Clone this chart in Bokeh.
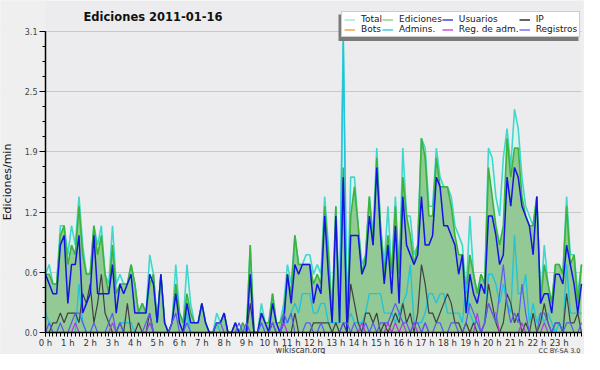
import numpy as np
from bokeh.plotting import figure
from bokeh.models import (Range1d, FixedTicker, Legend, LegendItem, Label,
                          BoxAnnotation, ColumnDataSource)
from bokeh.embed import file_html
from bokeh.resources import INLINE

# ---- data: 10-minute slots, 0 h .. 24 h (values = edits per minute) ----
slots = list(range(145))
hour_labels = [f"{h} h" for h in range(24)]
y_ticks = [0.0, 0.62, 1.24, 1.86, 2.48, 3.1]
y_tick_labels = ["0.0", "0.6", "1.2", "1.9", "2.5", "3.1"]

total = [0.6, 0.7, 0.5, 0.5, 1.1, 1.1,  0.8, 1.1, 0.9, 1.4, 0.9, 0.6,
         0.6, 1.1, 0.9, 1.1, 0.6, 0.5,  1.1, 0.5, 0.6, 0.5, 0.5, 0.7,
         0.5, 0.2, 0.3, 0.2, 0.8, 0.6,  0.1, 0.6, 0.1, 0.0, 0.1, 0.7,
         0.2, 0.1, 0.7, 0.3, 0.1, 0.1,  0.3, 0.1, 0.0, 0.0, 0.2, 0.1,
         0.2, 0.0, 0.0, 0.1, 0.0, 0.1,  0.0, 0.9, 0.0, 0.0, 0.3, 0.1,
         0.1, 0.4, 0.1, 0.1, 0.3, 0.7,  0.5, 1.0, 0.7, 0.7, 0.8, 0.8,
         0.6, 0.7, 0.6, 1.4, 0.9, 0.2,  1.3, 0.2, 3.1, 0.1, 1.6, 1.6,
         1.1, 0.7, 0.8, 1.4, 1.0, 1.9,  1.1, 0.7, 1.3, 0.6, 1.4, 0.6,
         1.9, 1.2, 1.2, 0.8, 0.9, 2.0,  1.9, 1.3, 1.3, 1.9, 1.6, 1.5,
         1.5, 1.4, 1.1, 1.0, 0.9, 0.4,  1.2, 0.6, 0.4, 0.6, 0.5, 1.9,
         1.8, 1.4, 1.2, 1.8, 2.1, 1.7,  2.3, 2.1, 1.6, 1.3, 1.2, 1.1,
         1.4, 0.3, 0.9, 0.5, 0.3, 0.7,  0.7, 0.6, 1.4, 0.8, 0.8, 0.4,
         0.7]
edits = [0.6, 0.6, 0.5, 0.5, 1.0, 1.1,  0.7, 0.9, 0.8, 1.3, 0.8, 0.6,
         0.6, 1.1, 0.8, 1.0, 0.6, 0.4,  0.9, 0.4, 0.5, 0.5, 0.5, 0.7,
         0.5, 0.2, 0.3, 0.2, 0.5, 0.6,  0.1, 0.6, 0.1, 0.0, 0.1, 0.5,
         0.2, 0.1, 0.4, 0.2, 0.1, 0.1,  0.3, 0.1, 0.0, 0.0, 0.1, 0.1,
         0.2, 0.0, 0.0, 0.1, 0.0, 0.1,  0.0, 0.9, 0.0, 0.0, 0.2, 0.1,
         0.1, 0.4, 0.1, 0.1, 0.2, 0.6,  0.4, 1.0, 0.7, 0.7, 0.7, 0.7,
         0.5, 0.6, 0.5, 1.3, 0.8, 0.1,  1.3, 0.1, 1.7, 0.1, 1.2, 1.5,
         1.1, 0.6, 0.8, 1.4, 0.9, 1.8,  1.1, 0.6, 1.0, 0.6, 1.3, 0.6,
         1.6, 1.2, 1.0, 0.7, 0.9, 2.0,  1.8, 1.2, 1.2, 1.8, 1.5, 1.5,
         1.5, 1.3, 1.0, 0.8, 0.8, 0.4,  0.8, 0.6, 0.4, 0.6, 0.5, 1.7,
         1.4, 1.1, 0.9, 1.1, 2.0, 1.6,  1.9, 1.9, 1.4, 1.2, 1.1, 1.1,
         1.4, 0.3, 0.7, 0.5, 0.3, 0.7,  0.7, 0.6, 1.3, 0.7, 0.8, 0.3,
         0.7]
users = [0.6, 0.5, 0.4, 0.4, 0.9, 1.0,  0.3, 0.7, 0.7, 1.0, 0.2, 0.3,
         0.4, 1.0, 0.4, 0.4, 0.4, 0.4,  0.7, 0.2, 0.5, 0.4, 0.5, 0.6,
         0.2, 0.2, 0.2, 0.2, 0.6, 0.5,  0.1, 0.6, 0.1, 0.0, 0.1, 0.4,
         0.1, 0.0, 0.3, 0.1, 0.1, 0.1,  0.3, 0.1, 0.0, 0.0, 0.1, 0.1,
         0.2, 0.0, 0.0, 0.1, 0.0, 0.0,  0.0, 0.6, 0.0, 0.0, 0.2, 0.1,
         0.0, 0.3, 0.1, 0.0, 0.1, 0.6,  0.3, 0.7, 0.6, 0.7, 0.7, 0.7,
         0.3, 0.5, 0.4, 1.2, 0.6, 0.1,  1.2, 0.1, 1.6, 0.0, 1.0, 1.0,
         1.0, 0.6, 0.7, 1.2, 0.9, 1.7,  1.0, 0.5, 0.9, 0.4, 1.1, 0.3,
         1.4, 0.9, 0.8, 0.7, 0.8, 1.4,  0.9, 0.9, 1.0, 1.6, 1.5, 1.1,
         1.1, 1.0, 0.9, 0.6, 0.8, 0.2,  0.6, 0.4, 0.3, 0.5, 0.4, 1.2,
         1.2, 1.0, 0.7, 0.8, 1.6, 1.3,  1.7, 1.6, 1.3, 1.2, 1.1, 0.8,
         1.4, 0.3, 0.4, 0.4, 0.2, 0.6,  0.6, 0.5, 0.9, 0.7, 0.5, 0.2,
         0.5]
ip = [0.0, 0.0, 0.1, 0.1, 0.2, 0.1,  0.2, 0.2, 0.2, 0.1, 0.4, 0.3,
      0.5, 0.1, 0.3, 0.6, 0.2, 0.1,  0.0, 0.0, 0.1, 0.0, 0.3, 0.0,
      0.0, 0.1, 0.0, 0.0, 0.2, 0.0,  0.0, 0.0, 0.0, 0.0, 0.0, 0.0,
      0.0, 0.0, 0.0, 0.0, 0.0, 0.0,  0.0, 0.0, 0.0, 0.0, 0.0, 0.0,
      0.0, 0.0, 0.0, 0.0, 0.0, 0.0,  0.0, 0.3, 0.0, 0.0, 0.0, 0.0,
      0.0, 0.1, 0.0, 0.0, 0.0, 0.0,  0.0, 0.2, 0.0, 0.0, 0.0, 0.0,
      0.1, 0.1, 0.1, 0.1, 0.1, 0.0,  0.1, 0.0, 0.1, 0.0, 0.5, 0.3,
      0.1, 0.0, 0.2, 0.2, 0.1, 0.2,  0.0, 0.1, 0.0, 0.1, 0.2, 0.1,
      0.3, 0.1, 0.2, 0.0, 0.2, 0.7,  0.5, 0.2, 0.2, 0.1, 0.2, 0.3,
      0.4, 0.3, 0.1, 0.1, 0.0, 0.1,  0.0, 0.1, 0.0, 0.0, 0.1, 0.5,
      0.3, 0.1, 0.0, 0.1, 0.4, 0.3,  0.1, 0.2, 0.0, 0.1, 0.0, 0.2,
      0.0, 0.1, 0.3, 0.1, 0.0, 0.1,  0.1, 0.0, 0.4, 0.1, 0.1, 0.2,
      0.0]
bots = []
admins = [0.2, 0.1, 0.0, 0.0, 0.0, 0.0,  0.0, 0.0, 0.0, 0.5, 0.1, 0.0,
          0.0, 0.0, 0.0, 0.0, 0.0, 0.0,  0.0, 0.0, 0.1, 0.1, 0.1, 0.1,
          0.0, 0.0, 0.0, 0.0, 0.1, 0.0,  0.0, 0.0, 0.0, 0.0, 0.0, 0.0,
          0.0, 0.0, 0.2, 0.0, 0.0, 0.0,  0.0, 0.0, 0.0, 0.0, 0.1, 0.0,
          0.0, 0.0, 0.0, 0.0, 0.0, 0.0,  0.0, 0.0, 0.0, 0.0, 0.1, 0.0,
          0.0, 0.0, 0.0, 0.0, 0.1, 0.1,  0.2, 0.3, 0.2, 0.4, 0.4, 0.4,
          0.2, 0.2, 0.3, 0.3, 0.1, 0.1,  0.1, 0.1, 3.0, 0.1, 0.2, 0.1,
          0.1, 0.1, 0.2, 0.4, 0.4, 0.4,  0.4, 0.2, 0.2, 0.2, 0.1, 0.2,
          0.3, 0.4, 0.7, 0.1, 0.1, 0.1,  0.2, 0.4, 0.4, 0.3, 0.4, 0.4,
          0.2, 0.2, 0.2, 0.2, 0.1, 0.5,  0.2, 0.1, 0.1, 0.0, 0.1, 0.6,
          0.6, 0.5, 0.3, 0.5, 0.3, 0.2,  1.0, 0.4, 0.4, 0.6, 0.1, 0.3,
          0.1, 0.2, 0.1, 0.2, 0.1, 0.0,  0.1, 0.0, 0.7, 0.2, 0.2, 0.2,
          0.2]
adm_reg = [0.0, 0.0, 0.0, 0.0, 0.0, 0.0,  0.0, 0.0, 0.1, 0.0, 0.0, 0.0,
           0.0, 0.0, 0.0, 0.0, 0.0, 0.0,  0.1, 0.0, 0.0, 0.0, 0.0, 0.0,
           0.0, 0.0, 0.0, 0.0, 0.1, 0.0,  0.0, 0.0, 0.0, 0.0, 0.0, 0.0,
           0.0, 0.0, 0.0, 0.0, 0.0, 0.0,  0.0, 0.0, 0.0, 0.0, 0.0, 0.0,
           0.0, 0.0, 0.0, 0.0, 0.0, 0.0,  0.0, 0.0, 0.0, 0.0, 0.0, 0.0,
           0.0, 0.0, 0.0, 0.0, 0.1, 0.0,  0.0, 0.0, 0.0, 0.0, 0.0, 0.0,
           0.0, 0.0, 0.0, 0.0, 0.0, 0.0,  0.0, 0.0, 0.0, 0.0, 0.0, 0.0,
           0.0, 0.1, 0.0, 0.0, 0.0, 0.0,  0.0, 0.0, 0.1, 0.0, 0.1, 0.0,
           0.1, 0.0, 0.0, 0.1, 0.0, 0.0,  0.1, 0.0, 0.0, 0.0, 0.0, 0.0,
           0.0, 0.0, 0.0, 0.0, 0.0, 0.0,  0.0, 0.0, 0.2, 0.0, 0.1, 0.3,
           0.2, 0.2, 0.0, 0.0, 0.0, 0.0,  0.0, 0.0, 0.1, 0.0, 0.0, 0.0,
           0.0, 0.0, 0.1, 0.0, 0.0, 0.0,  0.0, 0.0, 0.0, 0.0, 0.0, 0.0,
           0.0]
registros = [0.0, 0.1, 0.0, 0.0, 0.1, 0.0,  0.0, 0.1, 0.2, 0.2, 0.1, 0.0,
             0.0, 0.1, 0.0, 0.0, 0.0, 0.1,  0.2, 0.0, 0.1, 0.0, 0.0, 0.0,
             0.0, 0.0, 0.0, 0.1, 0.2, 0.0,  0.0, 0.0, 0.0, 0.0, 0.1, 0.2,
             0.0, 0.0, 0.1, 0.0, 0.0, 0.0,  0.0, 0.0, 0.0, 0.0, 0.1, 0.1,
             0.0, 0.0, 0.0, 0.0, 0.1, 0.0,  0.1, 0.0, 0.0, 0.0, 0.1, 0.0,
             0.0, 0.1, 0.0, 0.0, 0.2, 0.1,  0.2, 0.0, 0.0, 0.0, 0.1, 0.1,
             0.0, 0.0, 0.1, 0.0, 0.0, 0.0,  0.0, 0.0, 0.1, 0.1, 0.0, 0.1,
             0.0, 0.0, 0.1, 0.0, 0.1, 0.0,  0.1, 0.1, 0.1, 0.2, 0.3, 0.2,
             0.1, 0.1, 0.0, 0.1, 0.1, 0.0,  0.1, 0.0, 0.0, 0.1, 0.1, 0.0,
             0.0, 0.1, 0.1, 0.0, 0.0, 0.1,  0.3, 0.2, 0.1, 0.0, 0.1, 0.3,
             0.2, 0.1, 0.4, 0.7, 0.3, 0.1,  0.2, 0.1, 0.5, 0.2, 0.0, 0.0,
             0.0, 0.2, 0.2, 0.1, 0.0, 0.1,  0.1, 0.0, 0.1, 0.1, 0.0, 0.0,
             0.1]

FONT = "DejaVu Sans"
BG = "#efefef"
W, H = 584, 354
X0, X144 = 45, 581         # pixel columns of 0 h and 24 h
Y0, Y31 = 332, 31          # pixel rows of value 0.0 and 3.1
PPX = (X144 - X0) / 144.0
PPU = (Y0 - Y31) / 3.1
x_lo, x_hi = -X0 / PPX, 144 + (W - X144) / PPX
y_lo, y_hi = -(H - Y0) / PPU, 3.1 + Y31 / PPU

# the frame fills the whole canvas; axes are pinned at the data origin
p = figure(width=W, height=H, output_backend="svg", toolbar_location=None,
           x_range=Range1d(x_lo, x_hi), y_range=Range1d(y_lo, y_hi),
           min_border_left=0, min_border_right=0, min_border_top=0,
           min_border_bottom=0,
           background_fill_color="#ececee", border_fill_color=BG,
           outline_line_color=None)

# page-coloured margins around the plotting area
for kw in (dict(top=0), dict(right=0), dict(left=144)):
    p.add_layout(BoxAnnotation(fill_color=BG, fill_alpha=1.0, line_color=None,
                               level="underlay", **kw))

src = ColumnDataSource(dict(x=slots, total=total, edits=edits, users=users, ip=ip,
                            admins=admins, adm_reg=adm_reg, registros=registros))

p.varea(x="x", y1=0, y2="total", source=src, fill_color="#dcf2ec")
p.varea(x="x", y1=0, y2="edits", source=src, fill_color="#93c994")
p.line("x", "total", source=src, line_color="#40d8cc", line_width=1.6)
p.line("x", "edits", source=src, line_color="#3cb43c", line_width=1.6)
p.line("x", "admins", source=src, line_color="#22c4dc", line_width=1.4)
p.line("x", "ip", source=src, line_color="#404040", line_width=1.2)
p.line("x", "users", source=src, line_color="#1414e4", line_width=1.5)
p.line("x", "adm_reg", source=src, line_color="#b03ce0", line_width=1.2)
p.line("x", "registros", source=src, line_color="#5a5af0", line_width=1.2)
p.line(x=bots, y=bots, line_color="#f0a040", line_width=1.2)

# legend samples (column-major order for a 4 x 2 grid)
leg_specs = [("Total", "#a8e6de"), ("Bots", "#f4a444"), ("Ediciones", "#8fd68f"),
             ("Admins.", "#44cce0"), ("Usuarios", "#4444e4"), ("Reg. de adm.", "#cc55e6"),
             ("IP", "#303030"), ("Registros", "#7474f2")]
items = []
for name, col in leg_specs:
    r = p.line(x=np.array([np.nan]), y=np.array([np.nan]), line_color=col, line_width=1.5)
    items.append(LegendItem(label=name, renderers=[r]))

LW, LH = 240, 26
LX, LY = 341, H - 11 - LH        # legend bottom-left, screen px from frame corner
shadow = BoxAnnotation(left=LX - 3, right=LX + LW - 3, bottom=LY - 3.5, top=LY + LH - 3,
                       left_units="screen", right_units="screen",
                       bottom_units="screen", top_units="screen",
                       fill_color="#7a7a7a", fill_alpha=1.0, line_color=None)
p.add_layout(shadow)

legend = Legend(items=items, location=(LX, LY), orientation="vertical", ncols=4,
                label_text_font=FONT, label_text_font_size="9px",
                label_text_color="#202020", label_height=10, glyph_height=9,
                glyph_width=11, label_standoff=6, spacing=0, padding=2, margin=0,
                border_line_color="#9a9a9a", border_line_width=1,
                background_fill_color="white", background_fill_alpha=1.0)
p.add_layout(legend)

# axes
yax = p.yaxis[0]
yax.fixed_location = 0
yax.bounds = (0, 3.1)
yax.ticker = FixedTicker(ticks=y_ticks,
                         minor_ticks=[round(i * 0.155, 3) for i in range(21)])
yax.major_label_overrides = {t: l for t, l in zip(y_ticks, y_tick_labels)}
yax.major_label_text_font = FONT
yax.major_label_text_font_size = "8px"
yax.major_label_text_color = "#444444"
yax.major_label_standoff = 2
yax.major_tick_out = 6
yax.major_tick_in = 0
yax.minor_tick_out = 3
yax.minor_tick_in = 0
yax.axis_line_width = 1.5
yax.axis_line_color = "black"
yax.major_tick_line_color = "black"
yax.minor_tick_line_color = "black"
yax.axis_label = "Ediciones/min"
yax.axis_label_text_font = FONT
yax.axis_label_text_font_size = "11px"
yax.axis_label_text_font_style = "normal"
yax.axis_label_text_color = "#111111"
yax.axis_label_standoff = 8

xax = p.xaxis[0]
xax.fixed_location = 0
xax.bounds = (0, 144)
xax.ticker = FixedTicker(ticks=[h * 6 for h in range(24)],
                         minor_ticks=list(range(145)))
xax.major_label_overrides = {h * 6: l for h, l in enumerate(hour_labels)}
xax.major_label_text_font = FONT
xax.major_label_text_font_size = "8.5px"
xax.major_label_text_color = "#333333"
xax.major_label_standoff = 1
xax.major_tick_out = 4
xax.major_tick_in = 0
xax.minor_tick_out = 4
xax.minor_tick_in = 0
xax.axis_line_width = 1.5
xax.axis_line_color = "black"

p.xgrid.visible = False
p.ygrid.ticker = FixedTicker(ticks=y_ticks)
p.ygrid.grid_line_color = "#c8c8c8"
p.ygrid.grid_line_width = 1

# title and footer texts (screen px from the frame's bottom-left corner)
p.add_layout(Label(x=83, y=H - 16, x_units="screen", y_units="screen",
                   text="Ediciones  2011-01-16", text_font=FONT, text_font_size="11.5px",
                   text_font_style="bold", text_color="#111111",
                   text_align="left", text_baseline="middle"))
p.add_layout(Label(x=300, y=4, x_units="screen", y_units="screen",
                   text="wikiscan.org", text_font=FONT, text_font_size="8px",
                   text_color="#333333", text_align="center", text_baseline="middle"))
p.add_layout(Label(x=580, y=4, x_units="screen", y_units="screen",
                   text="CC BY-SA 3.0", text_font=FONT, text_font_size="6.5px",
                   text_color="#333333", text_align="right", text_baseline="middle"))

open("out.html", "w").write(file_html(p, INLINE))
